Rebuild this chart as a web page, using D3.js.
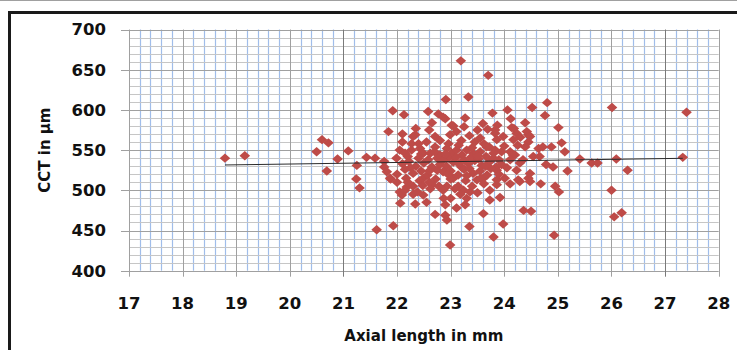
<!DOCTYPE html>
<html><head><meta charset="utf-8">
<script src="https://cdn.jsdelivr.net/npm/d3@7"></script>
<style>
body{margin:0;background:#fff;}
svg{display:block;}
text{font-family:"DejaVu Sans",sans-serif;font-weight:bold;fill:#111;}
</style></head>
<body>
<svg id="chart" width="737" height="350"></svg>
<script>
// ---- data ----
const axialLength = [18.79,19.16,20.50,20.60,20.72,20.69,20.89,21.09,21.25,21.24,21.30,21.43,21.59,21.62,21.93,21.76,21.76,21.84,21.92,22.13,21.88,21.81,22.99,23.19,23.70,22.91,23.33,22.58,22.77,22.90,23.27,23.78,22.65,23.05,22.35,22.99,22.71,22.34,23.69,23.87,23.45,23.72,22.71,24.80,24.52,24.06,24.76,24.12,24.39,24.18,25.01,24.45,23.83,23.86,25.07,24.88,24.72,25.13,24.64,25.41,25.63,25.74,26.09,27.33,26.01,27.40,26.30,25.18,24.54,24.29,24.35,24.11,24.16,26.00,26.05,26.19,24.93,23.98,23.80,24.36,24.50,24.95,25.02,24.68,24.45,24.29,23.92,23.73,23.35,22.09,22.06,22.30,22.49,22.34,22.66,22.71,22.90,22.93,22.87,22.90,23.11,23.27,23.30,23.61,23.24,23.36,22.18,22.30,22.49,22.93,23.05,23.14,23.49,23.61,23.73,23.86,22.30,22.27,22.86,23.02,23.11,22.96,23.83,23.67,23.83,22.05,22.15,21.99,22.27,22.43,22.49,22.62,22.80,22.93,23.02,23.11,23.21,23.30,23.42,23.55,22.10,22.22,22.35,22.50,22.65,22.80,22.92,23.05,23.20,23.33,23.45,23.58,23.72,23.85,22.00,22.17,22.30,22.42,22.57,22.72,22.86,23.00,23.14,23.28,23.42,23.56,23.68,21.87,22.05,22.15,22.38,22.48,22.62,22.78,22.86,23.08,23.18,23.98,24.14,24.23,24.17,24.42,24.48,24.45,24.39,23.95,23.80,24.20,24.11,24.66,24.78,24.91,23.86,24.23,24.48,23.86,24.01,24.11,24.26,24.48,22.20,22.40,22.58,22.75,22.95,23.10,23.25,23.38,23.52,23.66,23.90,22.15,22.45,22.75,23.00,23.25,23.55,23.75,22.55,22.80,23.20,23.35,23.55,22.10,23.60,22.00,23.40,23.00,23.50,22.55,
  22.25,22.60,22.85,23.15,23.35,23.65,23.95,22.45,22.70,23.15,23.40,23.62,22.40,22.90,23.50,23.80,22.60,22.95,23.30,23.62,22.20,23.90,24.05,24.00,24.25,23.50,22.60,23.25,24.30,22.10];
const cct = [540,543,548,563,559,524,539,549,531,514,503,541,540,451,456,536,529,573,599,594,514,523,432,661,643,613,616,598,595,589,590,596,584,580,577,569,567,569,576,581,560,554,554,609,603,600,593,589,584,577,578,569,571,563,559,554,554,548,552,539,534,534,539,541,603,597,525,524,542,534,538,548,544,500,467,472,444,458,442,475,474,505,498,508,515,511,491,488,455,494,484,495,494,483,507,470,469,463,490,482,478,482,490,471,500,498,504,505,515,505,515,505,513,515,500,507,567,558,591,581,573,558,575,554,550,550,546,540,550,552,546,546,544,552,546,550,544,550,546,548,533,536,530,534,529,532,530,535,529,533,537,531,535,529,520,515,521,512,519,514,523,514,519,512,521,515,519,515,498,500,498,506,502,505,500,502,495,567,578,571,563,573,567,560,554,548,546,544,538,542,532,529,525,525,521,513,515,508,513,511,542,540,538,540,540,541,538,541,539,542,538,526,524,525,524,526,524,527,560,562,562,568,565,560,583,510,505,490,497,485,
  528,524,537,533,527,530,532,545,548,556,553,558,558,545,543,540,510,520,518,508,510,520,528,555,556,575,575,579,566,570];
const trendX = [18.79, 27.33];
const trendY = [531.5, 539.8];
const xTicks = [17,18,19,20,21,22,23,24,25,26,27,28];
const yTicks = [400,450,500,550,600,650,700];
const xTitle = "Axial length in mm";
const yTitle = "CCT in µm";

// ---- layout ----
const svg = d3.select("#chart");
const L = 129, R = 718.7, T = 29.5, B = 270.7;
const x = d3.scaleLinear().domain([17,28]).range([L,R]);
const y = d3.scaleLinear().domain([400,700]).range([B,T]);

// outer frame
svg.append("line").attr("x1",0).attr("x2",737).attr("y1",0.5).attr("y2",0.5)
  .attr("stroke","#a0a0a0").attr("stroke-width",1);
svg.append("rect").attr("x",9.5).attr("y",12.5).attr("width",900).attr("height",500)
  .attr("fill","none").attr("stroke","#1a1a1a").attr("stroke-width",3);

const g = svg.append("g");
// minor grid
const xMinor = d3.range(17,28.001,0.2).filter(v => Math.abs(v-Math.round(v))>1e-6);
g.append("g").selectAll("line").data(xMinor).join("line")
  .attr("x1",d=>Math.round(x(d))+0.5).attr("x2",d=>Math.round(x(d))+0.5)
  .attr("y1",T).attr("y2",B).attr("stroke","#a0bdea").attr("stroke-width",1.2);
const yMinor = d3.range(400,700.001,10).filter(v => v%50!==0);
g.append("g").selectAll("line").data(yMinor).join("line")
  .attr("x1",L).attr("x2",R)
  .attr("y1",d=>Math.round(y(d))+0.5).attr("y2",d=>Math.round(y(d))+0.5)
  .attr("stroke","#c6c6c6").attr("stroke-width",1);

// major grid with ticks
g.append("g").selectAll("line").data(yTicks).join("line")
  .attr("x1",L-8).attr("x2",R)
  .attr("y1",d=>Math.round(y(d))+0.5).attr("y2",d=>Math.round(y(d))+0.5)
  .attr("stroke","#a0a0a0").attr("stroke-width",1);
g.append("g").selectAll("line").data(xTicks).join("line")
  .attr("x1",d=>Math.round(x(d))+0.5).attr("x2",d=>Math.round(x(d))+0.5)
  .attr("y1",T).attr("y2",B+6)
  .attr("stroke",d=>(d===21||d===27)?"#7a7a7a":"#a0a0a0").attr("stroke-width",1);

// tick labels
g.append("g").selectAll("text").data(yTicks).join("text")
  .attr("x",106).attr("y",d=>y(d)).attr("dy","0.36em")
  .attr("text-anchor","end").attr("font-size",16.5).text(d=>d);
g.append("g").selectAll("text").data(xTicks).join("text")
  .attr("x",d=>x(d)).attr("y",309)
  .attr("text-anchor","middle").attr("font-size",16.5).text(d=>d);

// titles
svg.append("text").attr("x",(L+R)/2).attr("y",340.5).attr("text-anchor","middle")
  .attr("font-size",15).text(xTitle);
svg.append("text").attr("transform",`translate(50,${(T+B)/2}) rotate(-90)`)
  .attr("text-anchor","middle").attr("font-size",15).text(yTitle);

// points
const pts = axialLength.map((v,i)=>({x:v,y:cct[i]}));
g.append("g").selectAll("path").data(pts).join("path")
  .attr("transform",d=>`translate(${x(d.x)},${y(d.y)})`)
  .attr("d","M0,-4.7L5.3,0L0,4.7L-5.3,0Z")
  .attr("fill","#be4b48");

// trend line
g.append("line")
  .attr("x1",x(trendX[0])).attr("y1",y(trendY[0]))
  .attr("x2",x(trendX[1])).attr("y2",y(trendY[1]))
  .attr("stroke","#2b2b2b").attr("stroke-width",1);
</script>
</body></html>
